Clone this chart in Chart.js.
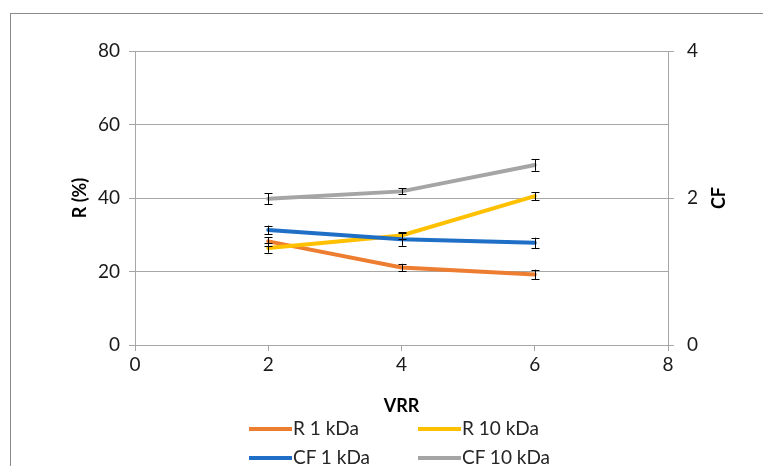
<!DOCTYPE html>
<html>
<head>
<meta charset="utf-8">
<script src="https://cdn.jsdelivr.net/npm/chart.js@4/dist/chart.umd.min.js"></script>
<style>
  body { margin: 0; background: #fff; }
  #wrap { position: relative; width: 763px; height: 466px; overflow: hidden; }
  #frame { position: absolute; left: 10px; top: 13px; width: 800px; height: 500px; border: 1px solid #8c8c8c; }
  canvas { position: absolute; left: 0; top: 0; }
  .leg { position: absolute; font-family: Lato, "Open Sans", sans-serif; font-size: 19px; color: #262626; line-height: 22px; white-space: nowrap; }
  .leg span { display: inline-block; width: 43px; height: 4px; vertical-align: middle; margin-right: 1px; position: relative; top: -1px; }
</style>
</head>
<body>
<div id="wrap">
  <div id="frame"></div>
  <canvas id="myChart" width="763" height="466"></canvas>
  <div class="leg" style="left:249px; top:417px;"><span style="background:#ED7D31"></span>R 1 kDa</div>
  <div class="leg" style="left:418px; top:417px;"><span style="background:#FFC000"></span>R 10 kDa</div>
  <div class="leg" style="left:249px; top:446px;"><span style="background:#1F6FC6"></span>CF 1 kDa</div>
  <div class="leg" style="left:418px; top:446px;"><span style="background:#A5A5A5"></span>CF 10 kDa</div>
</div>
<script>
// VRR values (x)
const vrr = [2, 4, 6];

// R (%) - left axis
const r1 = [28.2, 21.1, 19.2];
const r1Err = [1.2, 1.0, 1.3];
const r10 = [26.4, 29.8, 40.5];
const r10Err = [1.3, 0.9, 1.1];

// CF - right axis
const cf1 = [1.565, 1.44, 1.39];
const cf1Err = [0.06, 0.09, 0.07];
const cf10 = [1.99, 2.09, 2.45];
const cf10Err = [0.075, 0.04, 0.08];

const font = "Lato, 'Open Sans', sans-serif";
const gridColor = "#a6a6a6";

function pts(ys) {
  return vrr.map((x, i) => ({ x: x, y: ys[i] }));
}

// error bars
const errorBars = {
  id: "errorBars",
  afterDatasetsDraw(chart) {
    const ctx = chart.ctx;
    ctx.save();
    ctx.strokeStyle = "#000";
    ctx.lineWidth = 1;
    chart.data.datasets.forEach((ds, di) => {
      const meta = chart.getDatasetMeta(di);
      const scale = chart.scales[ds.yAxisID];
      meta.data.forEach((p, i) => {
        const v = ds.data[i].y, e = ds.errs[i];
        const x = Math.round(p.x) + 0.5;
        const top = scale.getPixelForValue(v + e);
        const bot = scale.getPixelForValue(v - e);
        ctx.beginPath();
        ctx.moveTo(x, top); ctx.lineTo(x, bot);
        ctx.moveTo(x - 4, Math.round(top) + 0.5); ctx.lineTo(x + 4, Math.round(top) + 0.5);
        ctx.moveTo(x - 4, Math.round(bot) + 0.5); ctx.lineTo(x + 4, Math.round(bot) + 0.5);
        ctx.stroke();
      });
    });
    ctx.restore();
  }
};

// axis titles
const axisTitles = {
  id: "axisTitles",
  afterDraw(chart) {
    const ctx = chart.ctx;
    const a = chart.chartArea;
    const mid = (a.top + a.bottom) / 2;
    ctx.save();
    ctx.fillStyle = "#000";
    ctx.font = "bold 18px " + font;
    ctx.textAlign = "center";
    ctx.textBaseline = "middle";
    ctx.fillText("VRR", (a.left + a.right) / 2, 406);
    ctx.translate(80, mid);
    ctx.rotate(-Math.PI / 2);
    ctx.fillText("R (%)", 0, 0);
    ctx.restore();
    ctx.save();
    ctx.fillStyle = "#000";
    ctx.font = "bold 18px " + font;
    ctx.textAlign = "center";
    ctx.textBaseline = "middle";
    ctx.translate(719, mid);
    ctx.rotate(-Math.PI / 2);
    ctx.fillText("CF", 0, 0);
    ctx.restore();
  }
};

const ctx = document.getElementById("myChart");
const myChart = new Chart(ctx, {
  type: "line",
  data: {
    datasets: [
      { label: "R 1 kDa", data: pts(r1), errs: r1Err, yAxisID: "y", borderColor: "#ED7D31", order: 3 },
      { label: "R 10 kDa", data: pts(r10), errs: r10Err, yAxisID: "y", borderColor: "#FFC000", order: 2 },
      { label: "CF 1 kDa", data: pts(cf1), errs: cf1Err, yAxisID: "y2", borderColor: "#1F6FC6", order: 1 },
      { label: "CF 10 kDa", data: pts(cf10), errs: cf10Err, yAxisID: "y2", borderColor: "#A5A5A5", order: 0 }
    ]
  },
  options: {
    responsive: false,
    animation: false,
    elements: {
      point: { radius: 0 },
      line: { borderWidth: 4, tension: 0, borderCapStyle: "round" }
    },
    layout: { padding: { left: 0, right: 0, top: 51, bottom: 91 } },
    plugins: { legend: { display: false }, tooltip: { enabled: false } },
    scales: {
      x: {
        type: "linear", min: 0, max: 8,
        ticks: { stepSize: 2, color: "#1a1a1a", font: { family: font, size: 19 }, padding: 2 },
        grid: { drawOnChartArea: false, color: gridColor, tickLength: 6 },
        border: { color: gridColor },
        afterFit(s) { s.height = 30; }
      },
      y: {
        position: "left", min: 0, max: 80,
        ticks: { stepSize: 20, color: "#1a1a1a", font: { family: font, size: 19 }, padding: 9 },
        grid: { color: gridColor, tickLength: 6 },
        border: { color: gridColor },
        afterFit(s) { s.width = 135; }
      },
      y2: {
        position: "right", min: 0, max: 4,
        ticks: { stepSize: 2, color: "#1a1a1a", font: { family: font, size: 19 }, padding: 13 },
        grid: { drawOnChartArea: false, color: gridColor, tickLength: 6 },
        border: { color: gridColor },
        afterFit(s) { s.width = 95; }
      }
    }
  },
  plugins: [errorBars, axisTitles]
});
</script>
</body>
</html>
